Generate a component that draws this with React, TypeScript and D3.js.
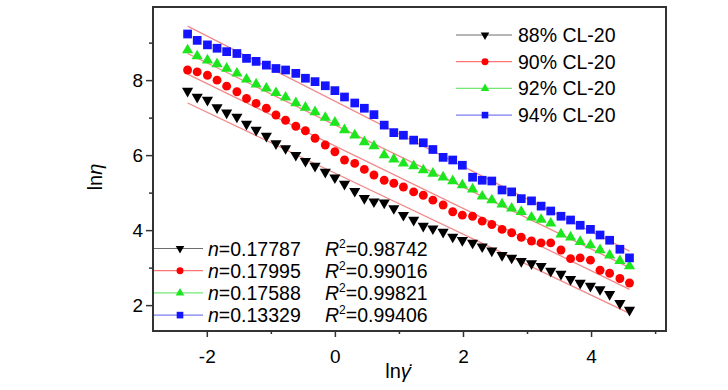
import { useEffect, useRef } from 'react';
import * as d3 from 'd3';

// ln(shear rate) sampled across the sweep
const lnShearRate = [
  -2.3, -2.15, -1.99, -1.84, -1.69, -1.53, -1.38, -1.23, -1.07, -0.92,
  -0.77, -0.61, -0.46, -0.31, -0.15, 0.0, 0.15, 0.31, 0.46, 0.61,
  0.77, 0.92, 1.07, 1.23, 1.38, 1.53, 1.69, 1.84, 1.99, 2.15,
  2.3, 2.45, 2.61, 2.76, 2.91, 3.07, 3.22, 3.37, 3.53, 3.68,
  3.83, 3.99, 4.14, 4.29, 4.45, 4.6,
];

// ln(viscosity) per CL-20 content
const lnEta88 = [
  7.71, 7.55, 7.47, 7.27, 7.13, 7.02, 6.83, 6.67, 6.51, 6.31,
  6.18, 6.0, 5.84, 5.71, 5.55, 5.4, 5.23, 5.04, 4.85, 4.76,
  4.73, 4.58, 4.4, 4.27, 4.11, 4.04, 3.95, 3.82, 3.73, 3.66,
  3.56, 3.45, 3.33, 3.26, 3.17, 3.11, 3.04, 2.91, 2.83, 2.69,
  2.59, 2.51, 2.42, 2.29, 2.05, 1.87,
];
const lnEta90 = [
  8.27, 8.22, 8.13, 8.0, 7.84, 7.69, 7.51, 7.38, 7.25, 7.07,
  6.93, 6.77, 6.65, 6.45, 6.27, 6.09, 5.87, 5.78, 5.62, 5.47,
  5.33, 5.25, 5.15, 5.02, 4.93, 4.8, 4.67, 4.49, 4.4, 4.37,
  4.24, 4.15, 4.02, 3.93, 3.81, 3.71, 3.66, 3.66, 3.47, 3.24,
  3.26, 3.2, 2.93, 2.85, 2.71, 2.59,
];
const lnEta92 = [
  8.8, 8.64, 8.53, 8.43, 8.31, 8.18, 8.02, 7.89, 7.78, 7.66,
  7.54, 7.39, 7.27, 7.15, 7.0, 6.87, 6.67, 6.53, 6.35, 6.24,
  6.0, 5.89, 5.78, 5.71, 5.6, 5.51, 5.41, 5.31, 5.2, 5.09,
  4.9, 4.8, 4.69, 4.58, 4.49, 4.34, 4.28, 4.18, 3.89, 3.81,
  3.69, 3.6, 3.47, 3.33, 3.18, 3.04,
];
const lnEta94 = [
  9.23, 9.06, 8.94, 8.85, 8.76, 8.71, 8.58, 8.5, 8.4, 8.31,
  8.27, 8.18, 8.05, 7.96, 7.85, 7.72, 7.55, 7.39, 7.25, 7.08,
  6.8, 6.6, 6.53, 6.4, 6.33, 6.15, 5.94, 5.87, 5.73, 5.41,
  5.33, 5.31, 5.07, 5.02, 4.84, 4.78, 4.64, 4.51, 4.37, 4.27,
  4.13, 4.02, 3.87, 3.73, 3.49, 3.26,
];

const seriesNames = ['88% CL-20', '90% CL-20', '92% CL-20', '94% CL-20'];
const nValues = ['0.17787', '0.17995', '0.17588', '0.13329'];
const r2Values = ['0.98742', '0.99016', '0.99821', '0.99406'];

// power-law fit lines, ln(eta) at first and last shear rate
const fitStart = [7.39, 8.16, 8.71, 9.44];
const fitEnd = [1.78, 2.42, 3.0, 3.44];

const xTicks = [-2, 0, 2, 4];
const xMinorTicks = [-1, 1, 3, 5];
const yTicks = [2, 4, 6, 8];
const yMinorTicks = [3, 5, 7, 9];

const W = 728;
const H = 390;
const FONT = "'Liberation Sans', Arial, sans-serif";

const markStyles = [
  { color: '#000000', legendLine: '#6e6e6e', symbol: d3.symbolTriangle, rotate: 180, size: 54, small: 32 },
  { color: '#ff0000', legendLine: '#ff7474', symbol: d3.symbolCircle, rotate: 0, size: 62, small: 38 },
  { color: '#1ee61e', legendLine: '#74e874', symbol: d3.symbolTriangle, rotate: 0, size: 54, small: 32 },
  { color: '#1414ff', legendLine: '#7c7cee', symbol: d3.symbolSquare, rotate: 0, size: 76, small: 44 },
];

export default function App() {
  const svgRef = useRef<SVGSVGElement>(null);

  useEffect(() => {
    if (!svgRef.current) return;
    const svg = d3.select(svgRef.current);
    svg.selectAll('*').remove();

    const x = d3.scaleLinear().domain([-2.84, 5.17]).range([153, 666]);
    const y = d3.scaleLinear().domain([1.31, 9.95]).range([331, 7]);

    svg.append('rect').attr('width', W).attr('height', H).attr('fill', '#fff');

    const series = [lnEta88, lnEta90, lnEta92, lnEta94];

    // fit lines
    series.forEach((_, i) => {
      svg.append('line')
        .attr('x1', x(lnShearRate[0]))
        .attr('y1', y(fitStart[i]))
        .attr('x2', x(lnShearRate[lnShearRate.length - 1]))
        .attr('y2', y(fitEnd[i]))
        .attr('stroke', '#f28a8a')
        .attr('stroke-width', 1.3);
    });

    // data markers
    series.forEach((vals, i) => {
      const st = markStyles[i];
      const sym = d3.symbol().type(st.symbol).size(st.size);
      svg.append('g')
        .selectAll('path')
        .data(vals)
        .join('path')
        .attr('d', sym)
        .attr('fill', st.color)
        .attr('transform', (d, j) => `translate(${x(lnShearRate[j])},${y(d)}) rotate(${st.rotate})`);
    });

    // frame
    svg.append('rect')
      .attr('x', 153).attr('y', 7)
      .attr('width', 666 - 153).attr('height', 331 - 7)
      .attr('fill', 'none')
      .attr('stroke', '#333')
      .attr('stroke-width', 2);

    // axes
    const styleAxis = (g: d3.Selection<SVGGElement, unknown, null, undefined>) => {
      g.select('.domain').remove();
      g.selectAll('line').attr('stroke', '#333').attr('stroke-width', 1.5);
      g.selectAll('text').attr('fill', '#000').style('font-size', '19px').style('font-family', FONT);
    };

    svg.append('g')
      .attr('transform', 'translate(0,331)')
      .call(d3.axisBottom(x).tickValues(xTicks).tickSize(6).tickPadding(13).tickFormat(d => String(d)))
      .call(styleAxis);
    svg.append('g')
      .attr('transform', 'translate(0,331)')
      .call(d3.axisBottom(x).tickValues(xMinorTicks).tickSize(3).tickFormat(() => ''))
      .call(styleAxis);
    svg.append('g')
      .attr('transform', 'translate(153,0)')
      .call(d3.axisLeft(y).tickValues(yTicks).tickSize(7).tickPadding(3).tickFormat(d => String(d)))
      .call(styleAxis);
    svg.append('g')
      .attr('transform', 'translate(153,0)')
      .call(d3.axisLeft(y).tickValues(yMinorTicks).tickSize(4).tickFormat(() => ''))
      .call(styleAxis);

    // axis titles
    const yTitle = svg.append('text')
      .attr('transform', 'translate(102,177) rotate(-90)')
      .attr('text-anchor', 'middle')
      .attr('font-family', FONT)
      .attr('font-size', 20)
      .text('ln');
    yTitle.append('tspan').attr('font-style', 'italic').text('η');

    const xTitle = svg.append('text')
      .attr('x', 398)
      .attr('y', 378)
      .attr('text-anchor', 'middle')
      .attr('font-family', FONT)
      .attr('font-size', 20)
      .text('ln');
    xTitle.append('tspan').attr('font-style', 'italic').text('γ\u0307');

    // top-right legend
    seriesNames.forEach((name, i) => {
      const st = markStyles[i];
      const cy = 35 + i * 26.7;
      svg.append('line')
        .attr('x1', 456).attr('x2', 512).attr('y1', cy).attr('y2', cy)
        .attr('stroke', st.legendLine).attr('stroke-width', 1.2);
      svg.append('path')
        .attr('d', d3.symbol().type(st.symbol).size(st.small)())
        .attr('fill', st.color)
        .attr('transform', `translate(485,${cy}) rotate(${st.rotate})`);
      svg.append('text')
        .attr('x', 518).attr('y', cy + 7)
        .attr('font-family', FONT).attr('font-size', 19.5)
        .attr('fill', '#000')
        .text(name);
    });

    // fit parameter legend
    nValues.forEach((nv, i) => {
      const st = markStyles[i];
      const cy = 248.5 + i * 22.2;
      svg.append('line')
        .attr('x1', 154).attr('x2', 203).attr('y1', cy).attr('y2', cy)
        .attr('stroke', st.legendLine).attr('stroke-width', 1.2);
      svg.append('path')
        .attr('d', d3.symbol().type(st.symbol).size(st.small)())
        .attr('fill', st.color)
        .attr('transform', `translate(180,${cy}) rotate(${st.rotate})`);
      const nt = svg.append('text')
        .attr('x', 208).attr('y', cy + 7)
        .attr('font-family', FONT).attr('font-size', 19.5)
        .attr('fill', '#000');
      nt.append('tspan').attr('font-style', 'italic').text('n');
      nt.append('tspan').text(`=${nv}`);
      const rt = svg.append('text')
        .attr('x', 325).attr('y', cy + 7)
        .attr('font-family', FONT).attr('font-size', 19.5)
        .attr('fill', '#000');
      rt.append('tspan').attr('font-style', 'italic').text('R');
      rt.append('tspan').attr('font-size', 12).attr('dy', -8).text('2');
      rt.append('tspan').attr('dy', 8).text(`=${r2Values[i]}`);
    });
  }, []);

  return (
    <svg
      ref={svgRef}
      width={W}
      height={H}
      style={{ position: 'absolute', left: 0, top: 0, display: 'block' }}
    />
  );
}
